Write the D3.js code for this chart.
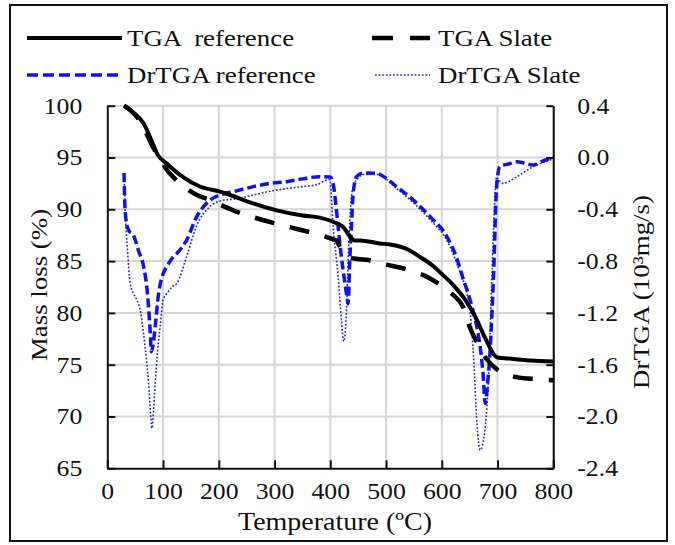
<!DOCTYPE html>
<html><head><meta charset="utf-8">
<script src="https://cdn.jsdelivr.net/npm/d3@7"></script>
<style>
html,body{margin:0;padding:0;background:#fff;}
svg text{font-family:'Liberation Serif';fill:#111;white-space:pre;}
</style></head>
<body>
<svg id="chart" width="675" height="545"></svg>
<script>
// ---------- data ----------
const xTicks = [0,100,200,300,400,500,600,700,800];
const massTicks = [65,70,75,80,85,90,95,100];
const drTicks = [-2.4,-2.0,-1.6,-1.2,-0.8,-0.4,0.0,0.4];

const tgaRefT = [30,45,65,82,90,107,136,166,202,214,260,304,350,381,405,417,423,435,444,453,489,507,540,561,585,603,615,627,639,651,663,674,685,692,700,720,760,800];
const tgaRefM = [100,99.4,98.3,96.3,95.3,94.4,93.1,92.2,91.7,91.5,90.6,89.9,89.4,89.2,88.8,88.5,88.3,87.4,87.0,87.0,86.7,86.6,86.1,85.4,84.5,83.6,83.0,82.3,81.5,80.5,79.3,78.0,76.8,76.1,75.7,75.6,75.4,75.3];

const tgaSlateT = [30,41,60,82,95,107,124,160,184,226,264,304,340,370,395,405,411,417,432,450,468,489,543,580,609,627,638,651,665,681,700,734,770,800];
const tgaSlateM = [100,99.6,98.4,96.0,94.8,93.8,92.8,91.4,90.9,89.9,89.2,88.6,88.1,87.7,87.3,87.1,87.0,86.4,85.4,85.2,85.1,84.8,84.1,83.3,82.2,81.4,80.6,78.5,77.0,75.5,74.5,73.8,73.6,73.5];

const drRefT = [30,31,33,38,47,56,65,72,77,79,82,86,92,100,107,116,125,142,160,184,202,230,262,292,322,350,381,400,405,411,417,423,429,432,435,438,441,447,459,483,500,519,549,579,609,627,639,645,654,663,670,674,678,682,686,690,693,698,704,720,734,750,764,780,794,800];
const drRefV = [-0.12,-0.3,-0.46,-0.56,-0.6,-0.72,-0.84,-1.05,-1.35,-1.5,-1.45,-1.3,-1.05,-0.9,-0.84,-0.78,-0.74,-0.64,-0.46,-0.33,-0.29,-0.26,-0.225,-0.2,-0.187,-0.165,-0.148,-0.15,-0.2,-0.405,-0.66,-0.87,-1.05,-1.13,-0.79,-0.53,-0.28,-0.148,-0.12,-0.122,-0.16,-0.225,-0.328,-0.457,-0.61,-0.78,-0.946,-1.02,-1.15,-1.31,-1.5,-1.67,-1.9,-1.75,-1.54,-1.2,-0.894,-0.25,-0.07,-0.05,-0.033,-0.045,-0.058,-0.03,-0.006,0.0];

const drSlateT = [30,32,36,41,47,53,60,65,70,74,78,80,83,86,90,95,100,107,116,125,142,160,184,208,230,262,292,322,350,375,399,405,414,420,424,429,432,436,441,450,459,483,519,549,579,609,633,645,651,657,663,669,673,678,684,690,696,698,703,710,734,764,794,800];
const drSlateV = [-0.12,-0.4,-0.7,-0.97,-1.05,-1.1,-1.2,-1.36,-1.55,-1.74,-2.0,-2.09,-1.95,-1.74,-1.5,-1.3,-1.1,-1.05,-1.0,-0.97,-0.77,-0.53,-0.38,-0.33,-0.32,-0.29,-0.26,-0.24,-0.225,-0.21,-0.17,-0.53,-0.92,-1.255,-1.42,-1.18,-0.79,-0.405,-0.225,-0.16,-0.13,-0.13,-0.24,-0.35,-0.48,-0.64,-0.89,-1.05,-1.2,-1.54,-2.05,-2.26,-2.22,-2.08,-1.67,-0.89,-0.25,-0.15,-0.18,-0.2,-0.15,-0.07,-0.02,-0.01];

const legendLabels = ["TGA  reference","TGA Slate","DrTGA reference","DrTGA Slate"];

// ---------- layout ----------
const FONT = "'Liberation Serif'";
const SX = 1.12;
const svg = d3.select("#chart");
const L = 107.3, R = 553.3, T = 105.7, B = 468.3;
const x = d3.scaleLinear().domain([0,800]).range([L,R]);
const yM = d3.scaleLinear().domain([65,100]).range([B,T]);
const yD = d3.scaleLinear().domain([-2.4,0.4]).range([B,T]);

// frame
svg.append("rect").attr("x",10).attr("y",5).attr("width",657).attr("height",536)
  .attr("fill","#fff").attr("stroke","#111").attr("stroke-width",2);

// grid
const grid = svg.append("g").attr("stroke","#d6d6d6").attr("stroke-width",2);
grid.selectAll(".v").data(xTicks.slice(1)).join("line")
  .attr("x1",d=>x(d)).attr("x2",d=>x(d)).attr("y1",T).attr("y2",B);
grid.selectAll(".h").data(massTicks.slice(1)).join("line")
  .attr("x1",L).attr("x2",R).attr("y1",d=>yM(d)).attr("y2",d=>yM(d));

// series
const styles = {
  tgaRef:{stroke:"#000",w:4,dash:null},
  tgaSlate:{stroke:"#000",w:4.5,dash:"20,16"},
  drRef:{stroke:"#1010e8",w:3.5,dash:"9,4"},
  drSlate:{stroke:"#2a2ac8",w:1.6,dash:"1.8,1.8"}
};
function draw(ts, vs, yS, st){
  const pts = ts.map((t,i)=>[t,vs[i]]);
  const line = d3.line().x(d=>x(d[0])).y(d=>yS(d[1])).curve(d3.curveMonotoneX);
  svg.append("path").datum(pts).attr("d",line).attr("fill","none")
    .attr("stroke",st.stroke).attr("stroke-width",st.w)
    .attr("stroke-dasharray",st.dash).attr("stroke-linejoin","round");
}
draw(drSlateT, drSlateV, yD, styles.drSlate);
draw(drRefT, drRefV, yD, styles.drRef);
draw(tgaSlateT, tgaSlateM, yM, styles.tgaSlate);
draw(tgaRefT, tgaRefM, yM, styles.tgaRef);

// axes
function styleTicks(g, size){
  g.attr("font-family", FONT);
  g.selectAll(".tick text").attr("font-size",size).attr("fill","#111")
    .style("font-family", FONT);
  g.selectAll(".domain").attr("stroke","#111").attr("stroke-width",2);
  g.selectAll(".tick line").attr("stroke","#111").attr("stroke-width",2);
}
const gx = svg.append("g").attr("transform",`translate(0,${B})`)
  .call(d3.axisBottom(x).tickValues(xTicks).tickSize(-8).tickSizeOuter(0).tickPadding(14).tickFormat(d3.format("d")));
styleTicks(gx,23);
gx.selectAll(".tick text").attr("transform",`scale(${SX},1)`);

const gl = svg.append("g").attr("transform",`translate(${L},0)`)
  .call(d3.axisLeft(yM).tickValues(massTicks).tickSize(-8).tickSizeOuter(0).tickFormat(d3.format("d")));
styleTicks(gl,23);
gl.selectAll(".tick text").attr("x",-25/SX).attr("transform",`scale(${SX},1)`);

const gr = svg.append("g").attr("transform",`translate(${R},0)`)
  .call(d3.axisRight(yD).tickValues(drTicks).tickSize(-7).tickSizeOuter(0).tickFormat(d3.format(".1f")));
styleTicks(gr,23);
gr.selectAll(".tick text").attr("x",24/SX).attr("transform",`scale(${SX},1)`)
  .text(d=>d3.format(".1f")(d).replace("−","-"));

// axis titles
function label(xp, yp, s, size, rot, anchor){
  svg.append("text").attr("transform",`translate(${xp},${yp}) rotate(${rot||0}) scale(${SX},1)`)
    .attr("text-anchor",anchor||"middle").attr("dy","0.35em").attr("font-size",size)
    .style("font-family", FONT).text(s);
}
label(39, 285, "Mass loss (%)", 24, -90);
label(641, 292, "DrTGA (10³mg/s)", 24, -90);
label(335, 521, "Temperature (ºC)", 25, 0);

// legend
const legendItems = [
  {lab:legendLabels[0], st:styles.tgaRef, x1:27, x2:122, tx:127, y:38, dash:null},
  {lab:legendLabels[1], st:styles.tgaSlate, x1:372, x2:430, tx:438, y:38, dash:"21,17"},
  {lab:legendLabels[2], st:styles.drRef, x1:27, x2:122, tx:127, y:75, dash:"11,5"},
  {lab:legendLabels[3], st:styles.drSlate, x1:375, x2:430, tx:438, y:75, dash:"1.8,1.8"}
];
legendItems.forEach(it=>{
  svg.append("line").attr("x1",it.x1).attr("x2",it.x2).attr("y1",it.y).attr("y2",it.y)
    .attr("stroke",it.st.stroke).attr("stroke-width",it.st.w).attr("stroke-dasharray",it.dash);
  label(it.tx, it.y, it.lab, 24, 0, "start");
});
</script>
</body></html>
